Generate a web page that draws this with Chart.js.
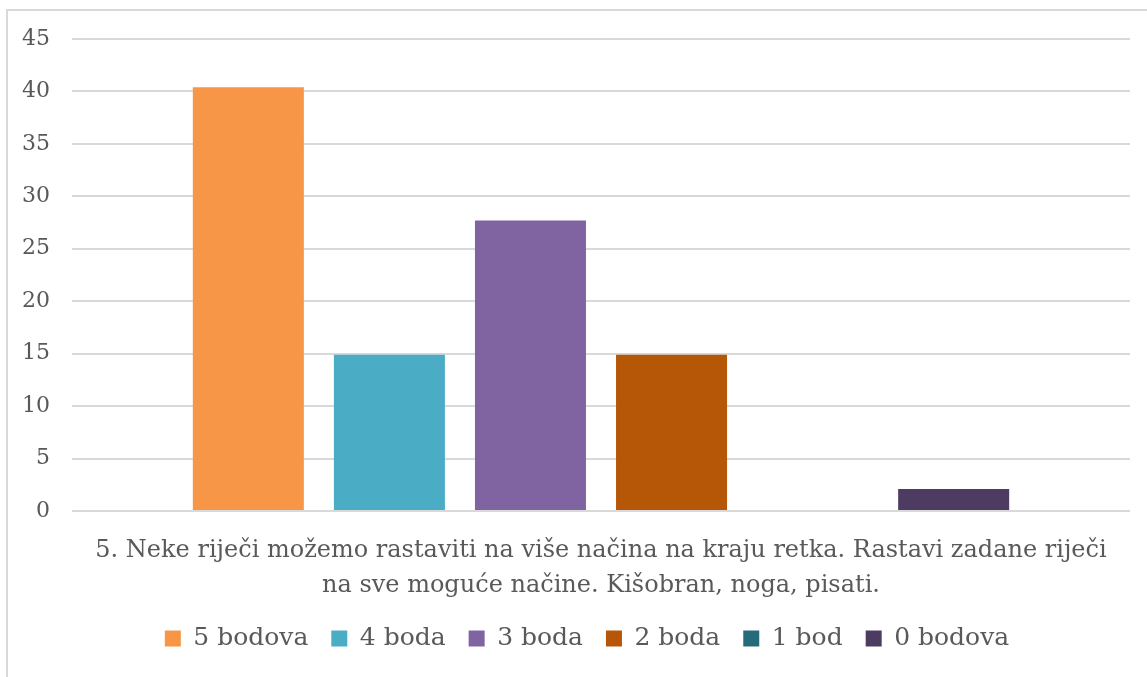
<!DOCTYPE html>
<html>
<head>
<meta charset="utf-8">
<script src="https://cdn.jsdelivr.net/npm/chart.js@4/dist/chart.umd.min.js"></script>
<style>
  html, body { margin: 0; padding: 0; background: #ffffff; }
  #frame { position: absolute; left: 0; top: 0; width: 1147px; height: 677px; }
  #border { position: absolute; left: 6px; top: 9px; width: 1141px; height: 668px;
            border-left: 2px solid #d9d9d9; border-top: 2px solid #d9d9d9; box-sizing: border-box; }
  canvas { position: absolute; left: 0; top: 0; }
</style>
</head>
<body>
<div id="frame">
  <div id="border"></div>
  <canvas id="c" width="1147" height="677"></canvas>
</div>
<script>
const categoryLines = [
  '5. Neke riječi možemo rastaviti na više načina na kraju retka. Rastavi zadane riječi',
  'na sve moguće načine. Kišobran, noga, pisati.'
];
const seriesNames = ['5 bodova', '4 boda', '3 boda', '2 boda', '1 bod', '0 bodova'];
const seriesValues = [40.4, 14.9, 27.7, 14.9, 0, 2.1];
const seriesColors = ['#f79646', '#4bacc6', '#8064a2', '#b65708', '#276a7c', '#4e3b62'];
const yTicks = [0, 5, 10, 15, 20, 25, 30, 35, 40, 45];

const FONT = "'DejaVu Serif', serif";
const TEXT = '#595959';

const datasets = seriesNames.map((name, i) => ({
  label: name,
  data: [seriesValues[i]],
  backgroundColor: seriesColors[i],
  borderWidth: 0,
  categoryPercentage: 0.8,
  barPercentage: 0.787
}));

// shift the legend so it is centred like in the reference
const legendShift = {
  id: 'legendShift',
  afterLayout(chart) {
    if (chart.legend) { chart.legend.left += 22; chart.legend.right += 22; }
  }
};

new Chart(document.getElementById('c'), {
  type: 'bar',
  data: { labels: [categoryLines], datasets },
  plugins: [legendShift],
  options: {
    responsive: false,
    animation: false,
    layout: { padding: { left: 0, right: 17, top: 39, bottom: 16 } },
    plugins: {
      tooltip: { enabled: false },
      legend: {
        position: 'bottom',
        labels: {
          font: { family: FONT, size: 25 },
          color: TEXT,
          boxWidth: 16,
          boxHeight: 16,
          padding: 23
        }
      }
    },
    scales: {
      x: {
        afterFit: (s) => { s.height = 92; },
        grid: { display: false, drawTicks: false },
        border: { display: false },
        ticks: {
          font: { family: FONT, size: 24, lineHeight: 1.458 },
          color: TEXT,
          padding: 22,
          maxRotation: 0,
          autoSkip: false
        }
      },
      y: {
        min: 0,
        max: 45,
        afterFit: (s) => { s.width = 72; },
        afterBuildTicks: (s) => { s.ticks = yTicks.map(v => ({ value: v })); },
        grid: { color: '#d9d9d9', lineWidth: 2, drawTicks: false },
        border: { display: false },
        ticks: {
          font: { family: FONT, size: 22 },
          color: TEXT,
          padding: 22
        }
      }
    }
  }
});
</script>
</body>
</html>
